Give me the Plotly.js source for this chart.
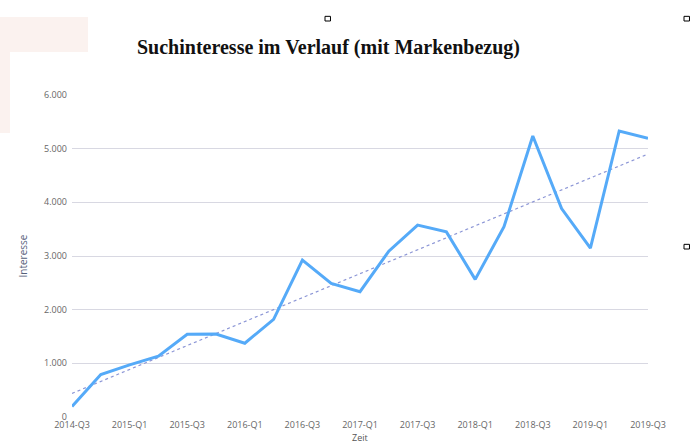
<!DOCTYPE html>
<html>
<head>
<meta charset="utf-8">
<script src="https://cdn.plot.ly/plotly-3.0.1.min.js"></script>
<style>
  html, body { margin: 0; padding: 0; background: #fff; }
  #graph { width: 693px; height: 443px; }
</style>
</head>
<body>
<div id="graph"></div>
<script>
const quarters = [
  "2014-Q3", "2014-Q4", "2015-Q1", "2015-Q2", "2015-Q3", "2015-Q4",
  "2016-Q1", "2016-Q2", "2016-Q3", "2016-Q4", "2017-Q1", "2017-Q2",
  "2017-Q3", "2017-Q4", "2018-Q1", "2018-Q2", "2018-Q3", "2018-Q4",
  "2019-Q1", "2019-Q2", "2019-Q3",
];

const interest = [
  195, 790, 970, 1135, 1540, 1545,
  1375, 1820, 2925, 2490, 2335, 3090,
  3575, 3450, 2565, 3545, 5235, 3885,
  3145, 5330, 5195,
];

// trend line (start / end)
const trendX = ["2014-Q3", "2019-Q3"];
const trendY = [440, 4900];

const tickQuarters = quarters.filter((_, i) => i % 2 === 0);

const trace = {
  x: quarters,
  y: interest,
  type: "scatter",
  mode: "lines",
  line: { color: "#55aaf8", width: 3 },
  hoverinfo: "x+y",
};

const trend = {
  x: trendX,
  y: trendY,
  type: "scatter",
  mode: "lines",
  line: { color: "#8c96d6", width: 1.2, dash: "dot" },
  hoverinfo: "skip",
};

const handle = (x, y) => ({
  type: "rect",
  xref: "paper",
  yref: "paper",
  x0: x, x1: x + 0.0095,
  y0: y, y1: y + 0.0145,
  line: { color: "#000", width: 1 },
  fillcolor: "#fff",
  layer: "above",
});

const layout = {
  width: 693,
  height: 443,
  margin: { l: 72, r: 45, t: 95, b: 26 },
  paper_bgcolor: "#fff",
  plot_bgcolor: "#fff",
  showlegend: false,
  separators: ",.",
  font: { family: "Open Sans, sans-serif", size: 9, color: "#666" },
  title: {
    text: "Suchinteresse im Verlauf (mit Markenbezug)",
    font: { family: "Liberation Serif, serif", size: 20, color: "#111", weight: "bold" },
    x: 0.474,
    xanchor: "center",
    y: 0.895,
    yanchor: "middle",
  },
  xaxis: {
    type: "category",
    categoryorder: "array",
    categoryarray: quarters,
    range: [0, quarters.length - 1],
    tickvals: tickQuarters,
    ticktext: tickQuarters,
    showgrid: false,
    zeroline: false,
    showline: false,
    ticks: "",
    ticklabelstandoff: 1,
    tickfont: { size: 9, color: "#666" },
    automargin: false,
  },
  yaxis: {
    range: [0, 6000],
    tickvals: [0, 1000, 2000, 3000, 4000, 5000, 6000],
    tickformat: ",d",
    showgrid: true,
    gridcolor: "#d8d8e2",
    gridwidth: 1.2,
    zeroline: false,
    showline: false,
    ticks: "",
    ticklabelstandoff: 4,
    tickfont: { size: 9, color: "#666" },
    title: { text: "Interesse", font: { size: 10, color: "#55607a" }, standoff: 14 },
    automargin: false,
  },
  annotations: [
    {
      // x-axis title, low near the bottom edge as in the source
      text: "Zeit",
      xref: "paper", yref: "paper",
      x: 0.5, y: -(437.5 - 417) / 322,
      xanchor: "center", yanchor: "middle",
      showarrow: false,
      font: { size: 9, color: "#555" },
    },
  ],
  shapes: [
    {
      type: "rect", xref: "paper", yref: "paper", layer: "below",
      x0: -72 / 576, x1: 16 / 576, y0: 1 + (95 - 52) / 322, y1: 1 + (95 - 17) / 322,
      line: { width: 0 }, fillcolor: "#fbf2ef",
    },
    {
      type: "rect", xref: "paper", yref: "paper", layer: "below",
      x0: -72 / 576, x1: -62 / 576, y0: 1 - (133 - 95) / 322, y1: 1 + (95 - 52) / 322,
      line: { width: 0 }, fillcolor: "#fbf2ef",
    },
    handle((325 - 72) / 576, 1 + (95 - 21) / 322),
    handle((684 - 72) / 576, 1 + (95 - 21) / 322),
    handle((684 - 72) / 576, 1 - (249 - 95) / 322),
  ],
};

Plotly.newPlot("graph", [trend, trace], layout, { displayModeBar: false });
</script>
</body>
</html>
